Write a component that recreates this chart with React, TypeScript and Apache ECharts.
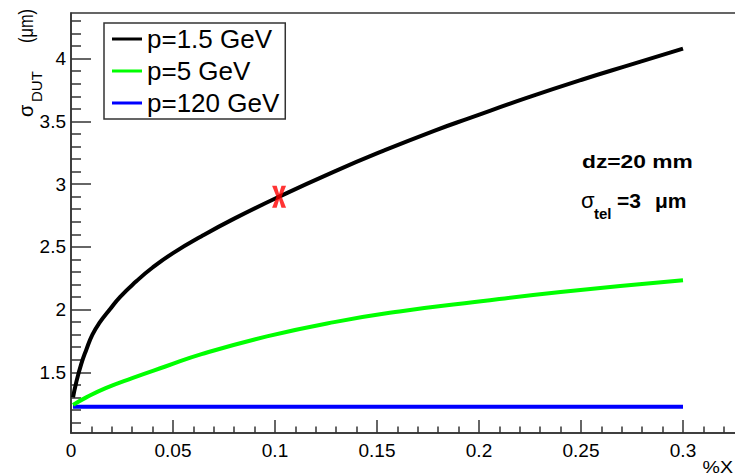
import React, { useEffect, useRef } from "react";
import * as echarts from "echarts";

// Material budget %X on the horizontal axis, DUT resolution in µm vertically
const blackX = [0.001, 0.0025, 0.005, 0.0075, 0.0105, 0.014, 0.019, 0.024, 0.032, 0.04, 0.05, 0.064, 0.08, 0.102, 0.129, 0.153, 0.178, 0.196, 0.223, 0.25, 0.276, 0.3];
const blackY = [1.3, 1.415, 1.565, 1.68, 1.8, 1.895, 2.0, 2.1, 2.225, 2.335, 2.45, 2.585, 2.725, 2.9, 3.1, 3.265, 3.425, 3.53, 3.685, 3.83, 3.96, 4.08];

const greenX = [0.001, 0.0075, 0.017, 0.03, 0.0466, 0.064, 0.096, 0.129, 0.161, 0.193, 0.24, 0.3];
const greenY = [1.24, 1.3, 1.374, 1.454, 1.548, 1.645, 1.786, 1.9, 1.985, 2.05, 2.14, 2.234];

const blueX = [0.001, 0.1, 0.2, 0.3];
const blueY = [1.226, 1.226, 1.226, 1.226];

const seriesNames = ["p=1.5 GeV", "p=5 GeV", "p=120 GeV"];
const seriesColors = ["#000000", "#00ff00", "#0000ff"];

// Working point marked on the 1.5 GeV curve
const markerPoint = [0.102, 2.9];

const yMajorTicks = [1.5, 2, 2.5, 3, 3.5, 4];
const yMinorTicks = [1.1, 1.2, 1.3, 1.4, 1.6, 1.7, 1.8, 1.9, 2.1, 2.2, 2.3, 2.4, 2.6, 2.7, 2.8, 2.9, 3.1, 3.2, 3.3, 3.4, 3.6, 3.7, 3.8, 3.9, 4.1, 4.2, 4.3];
const yMin = 1.016;
const yMax = 4.364;

const FONT = '"Liberation Sans", Arial, Helvetica, sans-serif';

const zip = (xs: number[], ys: number[]) => xs.map((x, i) => [x, ys[i]]);

export default function App() {
  const ref = useRef<HTMLDivElement>(null);

  useEffect(() => {
    if (!ref.current) return;
    const chart = echarts.init(ref.current, undefined, { renderer: "svg" });

    const xPath = "path://M0,0 L4.6,0 L7,8 L9.4,0 L14,0 L9.6,11 L14,22 L9.4,22 L7,14 L4.6,22 L0,22 L4.4,11 Z";

    const lineSeries = [
      [blackX, blackY],
      [greenX, greenY],
      [blueX, blueY],
    ].map(([xs, ys], i) => ({
      name: seriesNames[i],
      type: "line",
      xAxisIndex: 0,
      yAxisIndex: 0,
      data: zip(xs as number[], ys as number[]),
      smooth: 0.5,
      showSymbol: false,
      symbol: "none",
      lineStyle: { color: seriesColors[i], width: 4 },
      itemStyle: { color: seriesColors[i] },
      z: 5 - i,
    }));

    const text = (x: number, y: number, s: string, size: number, opts: any = {}) => ({
      type: "text",
      x,
      y,
      rotation: opts.rotation || 0,
      scaleX: opts.scaleX || 1,
      scaleY: opts.scaleY || 1,
      z: 100,
      style: {
        text: s,
        fill: "#000",
        fontSize: size,
        fontFamily: FONT,
        fontWeight: opts.bold ? "bold" : "normal",
        textAlign: opts.align || "left",
        align: opts.align || "left",
        textVerticalAlign: opts.valign || "middle",
        verticalAlign: opts.valign || "middle",
      },
    });

    chart.setOption({
      animation: false,
      backgroundColor: "#ffffff",
      grid: {
        left: 71,
        top: 13,
        width: 714,
        height: 420,
        outerBoundsMode: "none",
        containLabel: false,
        show: true,
        borderColor: "#333",
        borderWidth: 1.5,
        backgroundColor: "transparent",
      },
      legend: {
        data: seriesNames,
        orient: "vertical",
        left: 104,
        top: 23,
        icon: "rect",
        itemWidth: 30,
        itemHeight: 3,
        itemGap: 2,
        selectedMode: false,
        backgroundColor: "#fff",
        borderColor: "#333",
        borderWidth: 1.5,
        padding: [1, 6, 1, 8],
        textStyle: { fontSize: 26, lineHeight: 30, fontFamily: FONT, color: "#000" },
      },
      xAxis: {
        type: "value",
        min: 0,
        max: 0.35,
        interval: 0.05,
        axisLine: { show: true, lineStyle: { color: "#333", width: 1.5 } },
        axisTick: { show: true, inside: true, length: 13, lineStyle: { color: "#333", width: 1.5 } },
        minorTick: { show: true, splitNumber: 5, length: 6.5, lineStyle: { color: "#333", width: 1.5 } },
        splitLine: { show: false },
        minorSplitLine: { show: false },
        axisLabel: {
          fontSize: 19,
          fontFamily: FONT,
          color: "#000",
          margin: 8,
          formatter: (v: number) => (v > 0.31 ? "" : String(+v.toFixed(2))),
        },
      },
      yAxis: [
        {
          type: "value",
          min: yMin,
          max: yMax,
          axisLine: { show: true, lineStyle: { color: "#333", width: 1.5 } },
          axisTick: { show: true, inside: true, length: 20, customValues: yMajorTicks, lineStyle: { color: "#333", width: 1.5 } },
          axisLabel: {
            customValues: yMajorTicks,
            fontSize: 19,
            fontFamily: FONT,
            color: "#000",
            margin: 5,
          },
          splitLine: { show: false },
        },
        {
          type: "value",
          min: yMin,
          max: yMax,
          position: "left",
          axisLine: { show: false },
          axisTick: { show: true, inside: true, length: 10, customValues: yMinorTicks, lineStyle: { color: "#333", width: 1.5 } },
          axisLabel: { show: false },
          splitLine: { show: false },
        },
      ],
      series: [
        ...lineSeries,
        {
          name: "working point",
          type: "scatter",
          xAxisIndex: 0,
          yAxisIndex: 0,
          data: [markerPoint],
          symbol: xPath,
          symbolSize: [14, 22],
          itemStyle: { color: "#ff0000" },
          z: 10,
        },
      ],
      graphic: [
        // vertical axis title: sigma_DUT (µm)
        text(26, 117, "σ", 20, { rotation: Math.PI / 2 }),
        text(36, 102, "DUT", 15, { rotation: Math.PI / 2 }),
        text(26, 43, "(μm)", 21, { rotation: Math.PI / 2, scaleX: 0.78 }),
        // horizontal axis title
        text(733, 458, "%X", 17, { align: "right", valign: "top", scaleX: 1.15 }),
        // setup annotation
        text(582, 161, "dz=20 mm", 19, { bold: true, scaleX: 1.2 }),
        text(581, 200, "σ", 22),
        text(594, 213, "tel", 15, { bold: true }),
        text(617, 200, "=3", 21, { bold: true }),
        text(655, 200, "μm", 21, { bold: true }),
      ],
    });

    return () => chart.dispose();
  }, []);

  return (
    <div
      ref={ref}
      style={{ position: "fixed", left: 0, top: 0, width: 735, height: 476, background: "#fff" }}
    />
  );
}
